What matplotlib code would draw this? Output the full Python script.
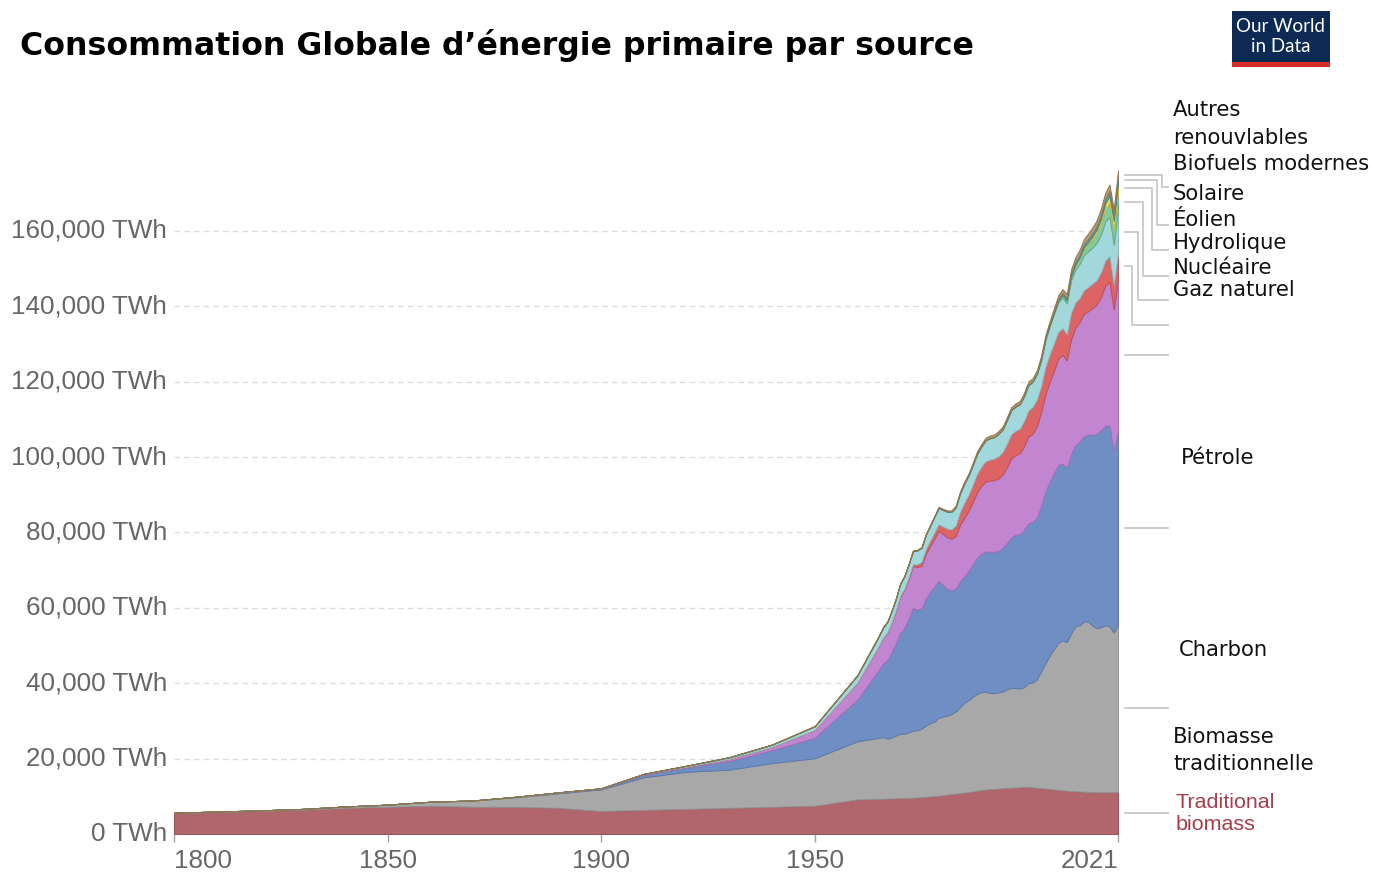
import matplotlib
matplotlib.use("Agg")
import matplotlib.pyplot as plt
import numpy as np
from matplotlib.lines import Line2D
from matplotlib.patches import Rectangle

W, H = 1374, 872

# ---------------- data (TWh) ----------------
years_early = [1800, 1810, 1820, 1830, 1840, 1850, 1860, 1870, 1880, 1890,
               1900, 1910, 1920, 1930, 1940, 1950, 1960]
years_recent = list(range(1965, 2022))

trad_early = [5560, 5830, 6110, 6390, 6940, 7220, 7500, 7220, 7220, 6940,
              6110, 6390, 6670, 6940, 7220, 7500, 9170]
trad_recent = [9330, 9370, 9400, 9430, 9470, 9500, 9550, 9600, 9650, 9700,
               9750, 9860, 9960, 10070, 10170, 10280, 10420, 10560, 10690, 10830,
               10970, 11140, 11310, 11470, 11640, 11810, 11890, 11970, 12060, 12140,
               12220, 12280, 12330, 12390, 12440, 12500, 12390, 12280, 12170, 12060,
               11940, 11830, 11720, 11610, 11500, 11390, 11330, 11280, 11220, 11170,
               11110, 11110, 11110, 11110, 11110, 11110, 11110]

coal_early = [97, 128, 153, 264, 356, 569, 1061, 1642, 2542, 3856,
              5728, 8656, 9833, 10125, 11586, 12603, 15440]
coal_recent = [16140, 16330, 15900, 16190, 16640, 17150, 17060, 17330, 17820, 17830,
               18200, 18890, 19400, 19720, 20640, 20900, 21000, 21240, 21800, 22760,
               23880, 24300, 25100, 25700, 26000, 25900, 25530, 25400, 25500, 25620,
               26200, 26500, 26400, 26200, 26500, 27500, 27800, 28700, 31000, 33200,
               35400, 37200, 39000, 39700, 39400, 41800, 43700, 44100, 45100, 45200,
               44200, 43500, 43700, 44300, 44000, 42300, 44470]

oil_early = [0, 0, 0, 0, 0, 0, 3, 33, 111, 250,
             181, 636, 1122, 2281, 3431, 5444, 11100]
oil_recent = [18100, 19500, 20800, 22600, 24500, 26700, 28100, 30200, 32500, 32000,
              31800, 33700, 34800, 35900, 36300, 34900, 33600, 32800, 32600, 33400,
              33400, 34400, 35100, 36100, 36700, 37300, 37400, 37500, 37500, 38200,
              38800, 39800, 40700, 40900, 41800, 42400, 42600, 43000, 43900, 45600,
              46200, 46700, 47200, 46900, 46300, 47600, 48100, 48600, 49200, 49600,
              50700, 51500, 52300, 52900, 53300, 48100, 51170]

gas_early = [0, 0, 0, 0, 0, 0, 0, 0, 0, 0,
             64, 161, 233, 575, 875, 2092, 4500]
gas_recent = [6300, 6800, 7300, 7900, 8600, 9600, 10100, 10600, 11100, 11300,
              11400, 11900, 12200, 12600, 13300, 13500, 13700, 13700, 13900, 15000,
              15600, 15800, 16600, 17300, 18000, 18500, 18900, 19000, 19300, 19400,
              20100, 21100, 21100, 21500, 22100, 23000, 23400, 24100, 24800, 25700,
              26400, 27100, 28100, 28900, 28400, 30400, 31100, 31900, 32400, 32700,
              33500, 34300, 35300, 37100, 38100, 37600, 40370]

nuclear_early = [0, 0, 0, 0, 0, 0, 0, 0, 0, 0,
                 0, 0, 0, 0, 0, 0, 5]
nuclear_recent = [70, 90, 110, 140, 170, 220, 310, 420, 540, 710,
                  1020, 1190, 1450, 1700, 1780, 1960, 2290, 2500, 2850, 3400,
                  4000, 4300, 4600, 4950, 5100, 5400, 5600, 5700, 5850, 5980,
                  6200, 6400, 6400, 6500, 6700, 6900, 7050, 7150, 7050, 7300,
                  7300, 7350, 7150, 7080, 6940, 7040, 6700, 6300, 6300, 6400,
                  6470, 6520, 6550, 6650, 6830, 6570, 7030]

hydro_early = [0, 0, 0, 0, 0, 0, 0, 0, 0, 0,
               50, 120, 260, 450, 600, 950, 1900]
hydro_recent = [2550, 2700, 2780, 2880, 3030, 3170, 3300, 3420, 3480, 3720,
                3780, 3840, 3920, 4150, 4340, 4420, 4500, 4640, 4830, 4950,
                5050, 5130, 5180, 5330, 5350, 5500, 5640, 5640, 5900, 5960,
                6250, 6330, 6420, 6470, 6520, 6690, 6620, 6700, 6710, 7100,
                7380, 7650, 7800, 8110, 8160, 8550, 8690, 9050, 9300, 9500,
                9560, 9900, 10050, 10330, 10400, 10700, 11180]

wind_early = [0] * 17
wind_recent = [0, 0, 0, 0, 0, 0, 0, 0, 0, 0,
               0, 0, 0, 0, 0, 0, 0, 0, 0, 0,
               0, 1, 2, 3, 7, 10, 12, 13, 16, 20,
               20, 25, 30, 40, 55, 90, 110, 150, 180, 240,
               290, 360, 450, 580, 720, 900, 1170, 1400, 1700, 1880,
               2180, 2500, 2950, 3300, 3700, 4100, 4800]

solar_early = [0] * 17
solar_recent = [0, 0, 0, 0, 0, 0, 0, 0, 0, 0,
                0, 0, 0, 0, 0, 0, 0, 0, 0, 0,
                0, 0, 0, 0, 0, 1, 1, 1, 1, 1,
                1, 2, 2, 2, 3, 3, 4, 5, 6, 8,
                10, 14, 20, 35, 55, 90, 180, 270, 370, 500,
                680, 870, 1150, 1500, 1800, 2200, 2700]

biofuels_early = [0] * 17
biofuels_recent = [0, 0, 0, 0, 0, 0, 0, 0, 0, 0,
                   0, 0, 0, 0, 10, 30, 40, 50, 60, 70,
                   80, 80, 80, 80, 80, 90, 90, 90, 90, 90,
                   100, 100, 100, 100, 100, 110, 120, 140, 170, 200,
                   240, 300, 400, 550, 620, 690, 700, 700, 760, 840,
                   900, 950, 1000, 1080, 1170, 1060, 1100]

other_early = [0, 0, 0, 0, 0, 0, 0, 0, 0, 0,
               0, 0, 0, 0, 0, 0, 70]
other_recent = [100, 105, 110, 115, 120, 125, 130, 140, 150, 160,
                170, 180, 200, 220, 245, 270, 300, 330, 370, 410,
                450, 480, 520, 560, 590, 620, 640, 650, 660, 680,
                700, 720, 740, 760, 780, 800, 810, 830, 860, 900,
                930, 980, 1030, 1080, 1150, 1250, 1300, 1370, 1440, 1510,
                1580, 1650, 1720, 1790, 1850, 1950, 2000]

series_keys = ["trad", "coal", "oil", "gas", "nuclear", "hydro",
               "wind", "solar", "biofuels", "other"]
series_values = {
    "trad": trad_early + trad_recent,
    "coal": coal_early + coal_recent,
    "oil": oil_early + oil_recent,
    "gas": gas_early + gas_recent,
    "nuclear": nuclear_early + nuclear_recent,
    "hydro": hydro_early + hydro_recent,
    "wind": wind_early + wind_recent,
    "solar": solar_early + solar_recent,
    "biofuels": biofuels_early + biofuels_recent,
    "other": other_early + other_recent,
}
face_colors = {
    "trad": "#b0666c", "coal": "#a8a8a8", "oil": "#6f8fc4", "gas": "#c285cf",
    "nuclear": "#dc6464", "hydro": "#a2d8dc", "wind": "#86c99c",
    "solar": "#f2dc5a", "biofuels": "#4aa3b8", "other": "#b59b74",
}
edge_colors = {
    "trad": "#9a5057", "coal": "#909090", "oil": "#5a79ad", "gas": "#a96db7",
    "nuclear": "#c44e4e", "hydro": "#84bfc4", "wind": "#66a97c",
    "solar": "#d2bb3a", "biofuels": "#338ca1", "other": "#8f7550",
}

years = years_early + years_recent
x_ticks = [1800, 1850, 1900, 1950, 2021]
y_ticks = [0, 20000, 40000, 60000, 80000, 100000, 120000, 140000, 160000]

title = "Consommation Globale d\u2019\u00e9nergie primaire par source"

# label texts (French overlay) with their layout slots (pixel positions)
right_labels = [
    ("Autres", 1173, 110), ("renouvlables", 1173, 138),
    ("Biofuels modernes", 1173, 164), ("Solaire", 1173, 194),
    ("\u00c9olien", 1173, 220), ("Hydrolique", 1173, 243),
    ("Nucl\u00e9aire", 1173, 268), ("Gaz naturel", 1173, 290),
    ("P\u00e9trole", 1181, 458), ("Charbon", 1179, 650),
    ("Biomasse", 1173, 737), ("traditionnelle", 1173, 764),
]
# leader-line slots: (bend x, label y) in pixels, None = straight line
leader_slots = {
    "trad": None, "coal": None, "oil": None, "gas": None,
    "nuclear": (1131.7, 325), "hydro": (1138.3, 300), "wind": (1143.3, 276),
    "solar": (1151.7, 250), "biofuels": (1156.7, 225), "other": (1161.7, 187),
}

# ---------------- figure ----------------
fig = plt.figure(figsize=(W / 100, H / 100), dpi=100)
fig.patch.set_facecolor("white")

def fxy(xp, yp):
    return (xp / W, 1 - yp / H)

ax_left, ax_right, ax_bottom, ax_top = 174, 1118, 834, 155.4
ax = fig.add_axes([ax_left / W, 1 - ax_bottom / H,
                   (ax_right - ax_left) / W, (ax_bottom - ax_top) / H])
ax.set_xlim(1800, 2021)
ax.set_ylim(0, 180000)

yrs = np.array(years, dtype=float)
cum = np.zeros(len(yrs))
bands = {}
for k in series_keys:
    v = np.array(series_values[k], dtype=float)
    ax.fill_between(yrs, cum, cum + v, facecolor=face_colors[k],
                    edgecolor=edge_colors[k], linewidth=0.7, zorder=3)
    bands[k] = (cum[-1], cum[-1] + v[-1])
    cum = cum + v

for s in ax.spines.values():
    s.set_visible(False)
ax.set_yticks(y_ticks)
ax.set_yticklabels([f"{t:,} TWh" for t in y_ticks])
ax.set_xticks(x_ticks)
ax.set_xticklabels([str(t) for t in x_ticks])
ax.yaxis.grid(True, linestyle=(0, (4, 3)), color="#dcdcdc", linewidth=1)
ax.set_axisbelow(True)
ax.tick_params(axis="y", length=0, pad=5, labelsize=18.7, labelcolor="#666666")
ax.tick_params(axis="x", length=6, width=1, color="#a0a0a0", pad=5,
               labelsize=18.7, labelcolor="#666666")
for lab in ax.get_xticklabels() + ax.get_yticklabels():
    lab.set_fontfamily("Liberation Sans")
for lab in ax.get_yticklabels():
    lab.set_verticalalignment("center")
xl = ax.get_xticklabels()
xl[0].set_horizontalalignment("left")
xl[-1].set_horizontalalignment("right")

# title
t = fig.text(*fxy(20, 45), title, fontsize=20, fontweight="bold",
             family="DejaVu Sans", va="center", ha="left", color="#000000")

def fit_width(txt, target):
    fig.canvas.draw()
    bb = txt.get_window_extent(renderer=fig.canvas.get_renderer())
    txt.set_fontsize(txt.get_fontsize() * target / bb.width)

fit_width(t, 958)

# right labels
ref = None
texts = []
for s, xp, yp in right_labels:
    tt = fig.text(*fxy(xp, yp), s, fontsize=15, family="DejaVu Sans",
                  va="center", ha="left", color="#111111")
    texts.append(tt)
    if s == "Biofuels modernes":
        ref = tt
fit_width(ref, 197)
for tt in texts:
    tt.set_fontsize(ref.get_fontsize())

tr1 = fig.text(*fxy(1176, 802), "Traditional", fontsize=15,
               family="Liberation Sans", va="center", ha="left", color="#a83d4c")
fit_width(tr1, 100)
fig.text(*fxy(1176, 824), "biomass", fontsize=tr1.get_fontsize(),
         family="Liberation Sans", va="center", ha="left", color="#a83d4c")

# leader lines
fig.canvas.draw()
for k in series_keys:
    lo, hi = bands[k]
    _, ydisp = ax.transData.transform((2021, (lo + hi) / 2))
    ys = H - ydisp
    slot = leader_slots[k]
    if slot is None:
        xs_, ys_ = [1125, 1168], [ys, ys]
    else:
        bx, ye = slot
        xs_, ys_ = [1125, bx, bx, 1168], [ys, ys, ye, ye]
    fig.add_artist(Line2D([x / W for x in xs_], [1 - y / H for y in ys_],
                          color="#c4c4c4", linewidth=1.2))

# logo
fig.add_artist(Rectangle(fxy(1232, 62), 98 / W, 51 / H, facecolor="#0c2a53",
                         edgecolor="none", transform=fig.transFigure))
fig.add_artist(Rectangle(fxy(1232, 67), 98 / W, 5 / H, facecolor="#d62e25",
                         edgecolor="none", transform=fig.transFigure))
l1 = fig.text(*fxy(1281, 26), "Our World", fontsize=13, family="Lato",
              color="white", ha="center", va="center")
fit_width(l1, 89)
fig.text(*fxy(1281, 47), "in Data", fontsize=l1.get_fontsize(), family="Lato",
         color="white", ha="center", va="center")

fig.savefig("out.png", dpi=100, facecolor="white")
